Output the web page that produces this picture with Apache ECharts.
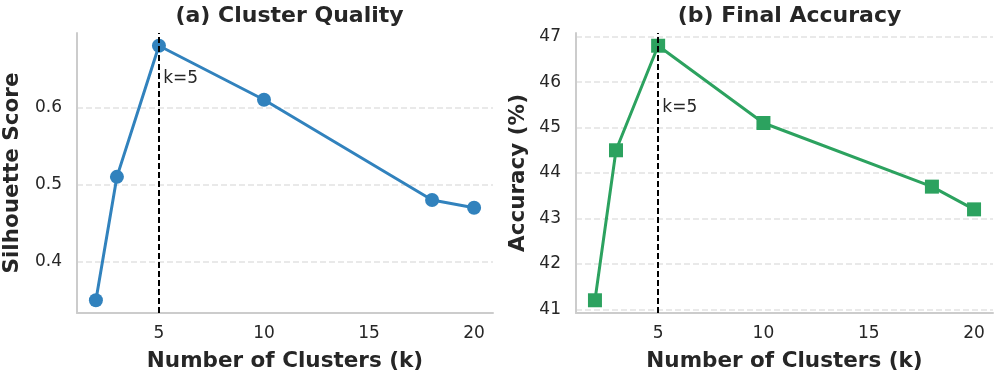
<!DOCTYPE html>
<html>
<head>
<meta charset="utf-8">
<script src="https://cdn.jsdelivr.net/npm/echarts@6/dist/echarts.min.js"></script>
<style>
  html, body { margin: 0; padding: 0; background: #fff; }
  #main { width: 996px; height: 378px; }
</style>
</head>
<body>
<div id="main"></div>
<script>
// data
var kValues = [2, 3, 5, 10, 18, 20];
var silhouette = [0.35, 0.51, 0.68, 0.61, 0.48, 0.47];
var accuracy = [41.2, 44.5, 46.8, 45.1, 43.7, 43.2];
var bestK = 5;
var titles = ['(a) Cluster Quality', '(b) Final Accuracy'];
var yNames = ['Silhouette Score', 'Accuracy (%)'];
var xName = 'Number of Clusters (k)';
// where the "k=5" note sits, in data units
var noteLeft = [5.2, 0.637];
var noteRight = [5.2, 45.45];

var FONT = 'DejaVu Sans';
var TXT = '#262626';
var BLUE = '#3182bd';
var GREEN = '#2ca25f';

function pairs(xs, ys) {
  var out = [];
  for (var i = 0; i < xs.length; i++) out.push([xs[i], ys[i]]);
  return out;
}

function xAxisFor(idx) {
  return {
    type: 'value', gridIndex: idx,
    min: 1.1, max: 20.9, splitNumber: 4,
    name: xName, nameLocation: 'middle', nameGap: 37,
    nameTextStyle: { fontFamily: FONT, fontSize: 21.5, fontWeight: 'bold', color: TXT },
    axisLine: { show: true, lineStyle: { color: '#cccccc', width: 2 } },
    axisTick: { show: false },
    axisLabel: { fontFamily: FONT, fontSize: 17, color: TXT, margin: 12,
      showMinLabel: false, showMaxLabel: false },
    splitLine: { show: false }
  };
}

function yAxisFor(idx, mn, mx, split, gap) {
  return {
    type: 'value', gridIndex: idx,
    min: mn, max: mx, splitNumber: split,
    name: yNames[idx], nameLocation: 'middle', nameGap: gap,
    nameTextStyle: { fontFamily: FONT, fontSize: 21.5, fontWeight: 'bold', color: TXT },
    axisLine: { show: true, lineStyle: { color: '#cccccc', width: 2 } },
    axisTick: { show: false },
    axisLabel: { fontFamily: FONT, fontSize: 17, color: TXT, margin: 15,
      showMinLabel: false, showMaxLabel: false },
    splitLine: { show: true, showMinLine: false, showMaxLine: false,
      lineStyle: { color: '#e2e2e2', type: [6, 3], width: 1.5 } }
  };
}

function kLine() {
  return {
    silent: true, symbol: 'none',
    lineStyle: { color: '#000', type: [6, 3], width: 2 },
    label: { show: false },
    data: [{ xAxis: bestK }]
  };
}

function note(pos) {
  return {
    silent: true,
    symbol: 'circle', symbolSize: 1,
    itemStyle: { color: 'rgba(0,0,0,0)' },
    label: { show: true, position: 'inside', align: 'left', verticalAlign: 'middle',
      formatter: 'k=' + bestK, fontFamily: FONT, fontSize: 17, color: TXT },
    data: [{ coord: pos }]
  };
}

var myChart = echarts.init(document.getElementById('main'));
var option = {
  animation: false,
  backgroundColor: '#fff',
  title: [
    { text: titles[0], left: 284.5, top: 0, textAlign: 'center',
      textStyle: { fontFamily: FONT, fontSize: 22, fontWeight: 'bold', color: TXT } },
    { text: titles[1], left: 784.5, top: 0, textAlign: 'center',
      textStyle: { fontFamily: FONT, fontSize: 22, fontWeight: 'bold', color: TXT } }
  ],
  grid: [
    { left: 76, right: 503, top: 33, bottom: 65 },
    { left: 576, right: 3, top: 33, bottom: 65 }
  ],
  xAxis: [xAxisFor(0), xAxisFor(1)],
  yAxis: [yAxisFor(0, 0.3335, 0.6965, 4, 54), yAxisFor(1, 40.92, 47.08, 6, 47)],
  series: [
    {
      type: 'line', xAxisIndex: 0, yAxisIndex: 0,
      data: pairs(kValues, silhouette),
      symbol: 'circle', symbolSize: 14,
      lineStyle: { color: BLUE, width: 3 },
      itemStyle: { color: BLUE },
      markLine: kLine(),
      markPoint: note(noteLeft)
    },
    {
      type: 'line', xAxisIndex: 1, yAxisIndex: 1,
      data: pairs(kValues, accuracy),
      symbol: 'rect', symbolSize: 14,
      lineStyle: { color: GREEN, width: 3 },
      itemStyle: { color: GREEN },
      markLine: kLine(),
      markPoint: note(noteRight)
    }
  ]
};
myChart.setOption(option);
window.addEventListener('resize', function () {
  myChart.resize();
});
</script>
</body>
</html>
